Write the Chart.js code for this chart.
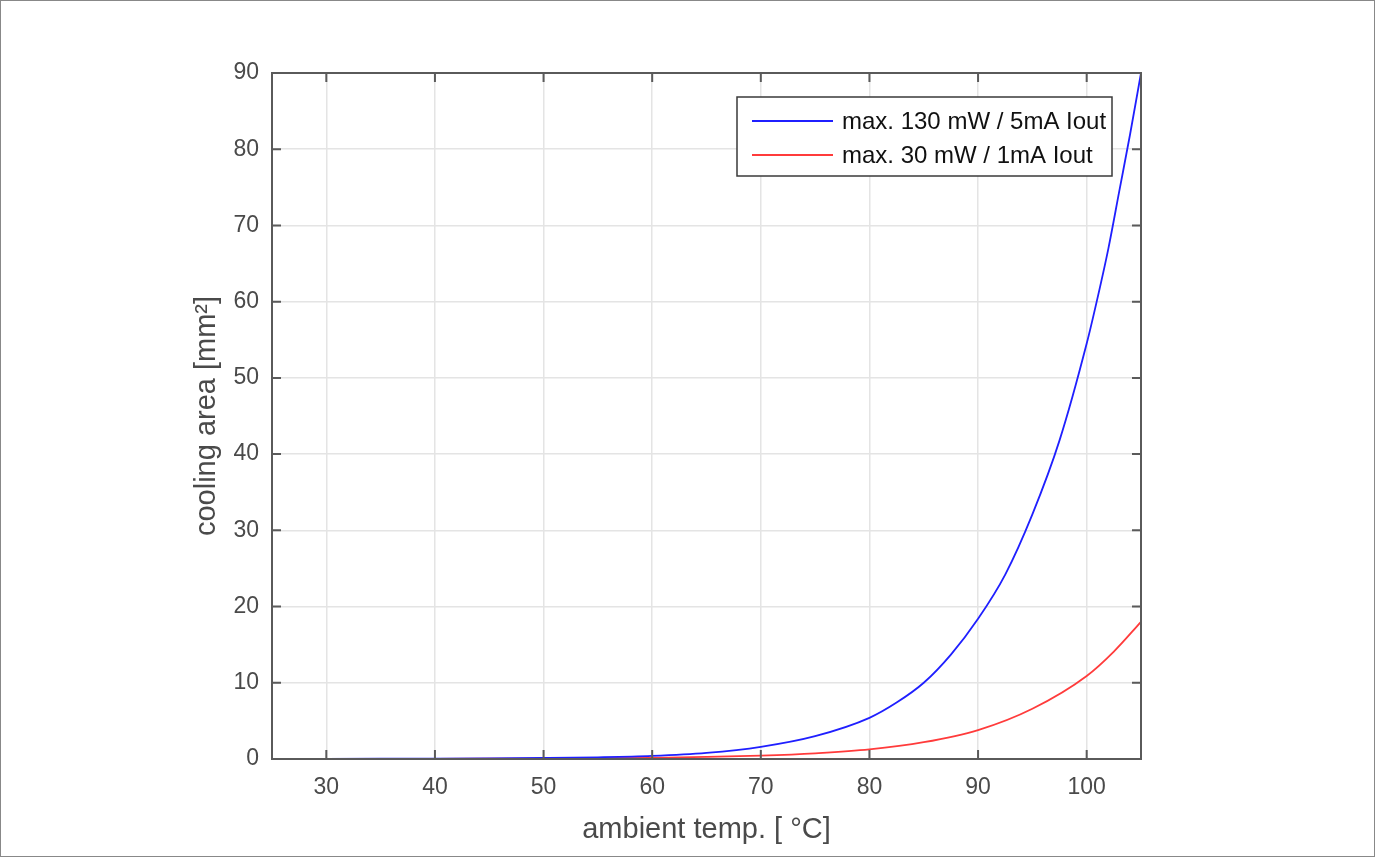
<!DOCTYPE html>
<html lang="en">
  <head>
    <meta charset="UTF-8" />
    <title>cooling area vs ambient temp</title>
    <script src="https://cdn.jsdelivr.net/npm/chart.js"></script>
    <style>
      * {
        margin: 0;
        padding: 0;
        box-sizing: border-box;
      }

      body {
        background: #fff;
        width: 1375px;
        height: 857px;
        overflow: hidden;
      }

      #chart {
        display: block;
      }
    </style>
  </head>
  <body>
    <canvas id="chart" width="1375" height="857"></canvas>

    <script>
      // values
      const xTicks = [30, 40, 50, 60, 70, 80, 90, 100];
      const yTicks = [0, 10, 20, 30, 40, 50, 60, 70, 80, 90];

      const blueTemp = [25, 30, 35, 40, 45, 50, 55, 60, 65, 70, 75, 80, 82.5, 85, 87.5, 90, 92.5, 95, 97.5, 100, 101, 102, 103, 104, 105];
      const blueArea = [0.01, 0.02, 0.03, 0.05, 0.08, 0.13, 0.22, 0.4, 0.8, 1.6, 3.0, 5.4, 7.4, 10.0, 13.7, 18.4, 24.2, 32.1, 41.8, 54.5, 60.5, 67, 74.5, 82, 90];

      const redTemp = [25, 30, 35, 40, 45, 50, 55, 60, 65, 70, 75, 80, 85, 90, 95, 100, 102.5, 105];
      const redArea = [0.005, 0.008, 0.012, 0.02, 0.03, 0.05, 0.09, 0.15, 0.27, 0.45, 0.75, 1.25, 2.2, 3.8, 6.6, 10.9, 14.1, 18];

      const seriesLabels = ["max. 130 mW / 5mA Iout", "max. 30 mW / 1mA Iout"];

      const axisColor = "#5a5a5a";
      const textColor = "#4a4a4a";
      const font = "'Liberation Sans', Arial, sans-serif";

      // matlab-like box with inward ticks + frame + legend
      const boxPlugin = {
        id: "box",
        afterDraw(chart) {
          const ctx = chart.ctx;
          const a = chart.chartArea;
          const xs = chart.scales.x;
          const ys = chart.scales.y;
          const tl = 9;
          ctx.save();
          ctx.strokeStyle = axisColor;
          ctx.lineWidth = 2;
          ctx.strokeRect(a.left, a.top, a.right - a.left, a.bottom - a.top);
          ctx.beginPath();
          xTicks.forEach((v) => {
            const p = xs.getPixelForValue(v);
            ctx.moveTo(p, a.bottom);
            ctx.lineTo(p, a.bottom - tl);
            ctx.moveTo(p, a.top);
            ctx.lineTo(p, a.top + tl);
          });
          yTicks.forEach((v) => {
            const p = ys.getPixelForValue(v);
            ctx.moveTo(a.left, p);
            ctx.lineTo(a.left + tl, p);
            ctx.moveTo(a.right, p);
            ctx.lineTo(a.right - tl, p);
          });
          ctx.stroke();

          // legend box
          const lx = 737, ly = 97, lw = 375, lh = 79;
          ctx.fillStyle = "#fff";
          ctx.fillRect(lx, ly, lw, lh);
          ctx.strokeStyle = "#3a3a3a";
          ctx.lineWidth = 1.5;
          ctx.strokeRect(lx, ly, lw, lh);
          ctx.font = "24px " + font;
          ctx.textBaseline = "middle";
          chart.data.datasets.forEach((ds, i) => {
            const y = ly + 24 + i * 34;
            ctx.strokeStyle = ds.borderColor;
            ctx.lineWidth = ds.borderWidth;
            ctx.beginPath();
            ctx.moveTo(752, y);
            ctx.lineTo(833, y);
            ctx.stroke();
            ctx.fillStyle = "#111";
            ctx.fillText(ds.label, 842, y + 1);
          });

          // outer frame
          ctx.strokeStyle = "#888";
          ctx.lineWidth = 1;
          ctx.strokeRect(0.5, 0.5, chart.width - 1, chart.height - 1);
          ctx.restore();
        },
      };

      const ctx = document.getElementById("chart").getContext("2d");
      new Chart(ctx, {
        type: "line",
        data: {
          datasets: [
            {
              label: seriesLabels[0],
              data: blueTemp.map((t, i) => ({ x: t, y: blueArea[i] })),
              borderColor: "#1f1fff",
              borderWidth: 1.8,
              pointRadius: 0,
              cubicInterpolationMode: "monotone",
            },
            {
              label: seriesLabels[1],
              data: redTemp.map((t, i) => ({ x: t, y: redArea[i] })),
              borderColor: "#ff3b3b",
              borderWidth: 1.8,
              pointRadius: 0,
              cubicInterpolationMode: "monotone",
            },
          ],
        },
        options: {
          responsive: false,
          animation: false,
          devicePixelRatio: 1,
          layout: {
            padding: { left: 180, right: 234, top: 73, bottom: 0 },
          },
          scales: {
            x: {
              type: "linear",
              min: 25,
              max: 105,
              afterBuildTicks: (s) => {
                s.ticks = xTicks.map((v) => ({ value: v }));
              },
              afterFit: (s) => {
                s.height = 98;
              },
              grid: { color: "#e4e4e4", lineWidth: 1.5, drawTicks: false },
              border: { display: false },
              ticks: {
                color: textColor,
                padding: 15,
                font: { size: 23, family: font },
              },
              title: {
                display: true,
                text: "ambient temp. [ °C]",
                color: textColor,
                font: { size: 29, family: font },
                padding: { top: 0, bottom: 10 },
              },
            },
            y: {
              type: "linear",
              min: 0,
              max: 90,
              afterBuildTicks: (s) => {
                s.ticks = yTicks.map((v) => ({ value: v }));
              },
              afterFit: (s) => {
                s.width = 92;
              },
              grid: { color: "#e4e4e4", lineWidth: 1.5, drawTicks: false },
              border: { display: false },
              ticks: {
                color: textColor,
                padding: 13,
                font: { size: 23, family: font },
              },
              title: {
                display: true,
                text: "cooling area [mm²]",
                color: textColor,
                font: { size: 29, family: font },
                padding: { top: 10, bottom: 0 },
              },
            },
          },
          plugins: {
            legend: { display: false },
            tooltip: { enabled: false },
          },
        },
        plugins: [boxPlugin],
      });
    </script>
  </body>
</html>
